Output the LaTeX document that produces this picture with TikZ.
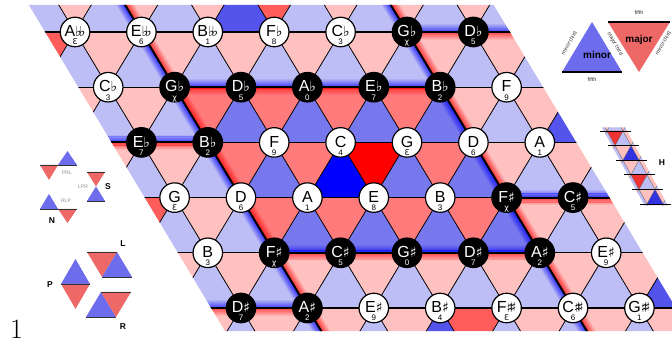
\documentclass[tikz,border=0pt]{standalone}
\usepackage{fontspec}
\usetikzlibrary{calc}
\setsansfont{Liberation Sans}
\newfontfamily\djv{DejaVu Sans}
\definecolor{majL}{RGB}{255,192,192}
\definecolor{majM}{RGB}{255,122,122}
\definecolor{majC}{RGB}{255,92,92}
\definecolor{majH}{RGB}{255,0,0}
\definecolor{minL}{RGB}{190,190,246}
\definecolor{minM}{RGB}{120,120,238}
\definecolor{minC}{RGB}{84,84,236}
\definecolor{minH}{RGB}{0,0,255}
\definecolor{legR}{RGB}{238,104,104}
\definecolor{legB}{RGB}{108,108,236}
\definecolor{hexR}{RGB}{240,50,50}
\definecolor{hexB}{RGB}{50,50,225}
\newcommand\fl{{\djv\fontsize{14}{14}\selectfont ♭}}
\newcommand\sh{{\djv\fontsize{14}{14}\selectfont ♯}}
\newcommand\dfl{\fl\kern-3pt\fl}
\newcommand\dsh{\sh\kern-4pt\sh}
\newcommand\ten{{\djv χ}}
\newcommand\elv{{\djv Ɛ}}
\newcommand\glowline[2]{%
  \foreach \k in {1,...,8}{%
    \pgfmathsetmacro\dd{\k*0.9}%
    \pgfmathsetmacro\op{0.62*(1-(\k-1)/8)}%
    \draw[blue,opacity=\op,line width=1pt]
      ($(#1)!\dd pt!90:(#2)$) -- ($(#2)!\dd pt!-90:(#1)$);
    \draw[red,opacity=\op,line width=1pt]
      ($(#1)!\dd pt!-90:(#2)$) -- ($(#2)!\dd pt!90:(#1)$);
  }}

\begin{document}
\begin{tikzpicture}[x=1pt,y=-1pt,
  note/.style={circle,draw=black,line width=1.2pt,minimum size=29.5pt,inner sep=0pt},
  wnote/.style={note,fill=white},
  bnote/.style={note,fill=black},
  wnote-lab/.style={text=black},
  bnote-lab/.style={text=white},
  nlab/.style={font=\sffamily\fontsize{16}{16}\selectfont,inner sep=0pt,text height=11.5pt,text depth=0pt,yshift=1pt},
  numlab/.style={font=\sffamily\fontsize{8}{8}\selectfont,inner sep=0pt,text height=5.8pt,text depth=0pt,yshift=-10pt},
  hline/.style={black,line width=1.1pt},
  dline/.style={black,line width=0.8pt},
  bound/.style={black,line width=2pt},
  edge/.style={black!80,line width=0.9pt},
  lgtiny/.style={font=\sffamily\fontsize{5.5}{6}\selectfont,text=black!80,inner sep=0pt},
  lggray/.style={font=\sffamily\fontsize{5}{6}\selectfont,text=black!45,inner sep=0pt},
  lgbold/.style={font=\sffamily\bfseries\fontsize{10}{10}\selectfont,inner sep=0pt},
  opbold/.style={font=\sffamily\bfseries\fontsize{8.5}{9}\selectfont,inner sep=0pt}]
\useasboundingbox (0,0) rectangle (672,344);

\begin{scope}[shift={(75,32)},x={(66.4pt,0pt)},y={(33.2pt,-55.2pt)}]
\begin{scope}
\clip (-0.45,-0.49) -- (6.55,-0.49) -- (6.55,5.42) -- (-0.45,5.42) -- cycle;
\foreach \r in {-1,...,5}{
  \foreach \c in {-2,...,7}{
    \pgfmathtruncatemacro\p{mod(7*\c+4*\r+127,12)}
    \pgfmathtruncatemacro\q{mod(7*\c+4*\r+131,12)}
    \pgfmathtruncatemacro\ind{(\c>0)*(\c<5)*(\r>0)*(\r<4)}
    \ifnum\ind=1 \def\dcol{majM}\def\ucol{minM}\else\def\dcol{majL}\def\ucol{minL}\fi
    \ifnum\p=0 \ifnum\ind=1 \def\dcol{majH}\else\def\dcol{majC}\fi\fi
    \ifnum\q=9 \ifnum\ind=1 \def\ucol{minH}\else\def\ucol{minC}\fi\fi
    \fill[\dcol] (\c,\r) -- (\c+1,\r) -- (\c,\r+1) -- cycle;
    \fill[\ucol] (\c+1,\r) -- (\c,\r+1) -- (\c+1,\r+1) -- cycle;
  }}
\foreach \a/\b in {{-4,2}/{1,2},{-4,5}/{1,5},{1,1}/{5,1},{1,4}/{5,4},{5,0}/{10,0},{5,3}/{10,3},{1,7}/{1,-2},{5,7}/{5,-2}}{\glowline{\a}{\b}}
\foreach \r in {-1,...,6} \draw[hline] (-8,\r) -- (12,\r);
\foreach \c in {-6,...,9} \draw[dline] (\c,-1) -- (\c,7);
\foreach \s in {-2,...,14} \draw[dline] (\s+1,-1) -- (\s-7,7);
\foreach \a/\b in {{-4,2}/{1,2},{-4,5}/{1,5},{1,1}/{5,1},{1,4}/{5,4},{5,0}/{10,0},{5,3}/{10,3},{1,7}/{1,-2},{5,7}/{5,-2}}{\draw[bound] (\a) -- (\b);}
\end{scope}

\foreach \nm/\num/\st [count=\c from 0] in {A\dfl/\elv/wnote,E\dfl/6/wnote,B\dfl/1/wnote,F\fl/8/wnote,C\fl/3/wnote,G\fl/\ten/bnote,D\fl/5/bnote}
  \node[\st,label={[nlab,\st-lab]center:\nm},label={[numlab,\st-lab]center:\num}] (n0\c) at (\c,0) {};
\foreach \nm/\num/\st [count=\c from 0] in {C\fl/3/wnote,G\fl/\ten/bnote,D\fl/5/bnote,A\fl/0/bnote,E\fl/7/bnote,B\fl/2/bnote,F/9/wnote}
  \node[\st,label={[nlab,\st-lab]center:\nm},label={[numlab,\st-lab]center:\num}] (n1\c) at (\c,1) {};
\foreach \nm/\num/\st [count=\c from 0] in {E\fl/7/bnote,B\fl/2/bnote,F/9/wnote,C/4/wnote,G/\elv/wnote,D/6/wnote,A/1/wnote}
  \node[\st,label={[nlab,\st-lab]center:\nm},label={[numlab,\st-lab]center:\num}] (n2\c) at (\c,2) {};
\foreach \nm/\num/\st [count=\c from 0] in {G/\elv/wnote,D/6/wnote,A/1/wnote,E/8/wnote,B/3/wnote,F\sh/\ten/bnote,C\sh/5/bnote}
  \node[\st,label={[nlab,\st-lab]center:\nm},label={[numlab,\st-lab]center:\num}] (n3\c) at (\c,3) {};
\foreach \nm/\num/\st [count=\c from 0] in {B/3/wnote,F\sh/\ten/bnote,C\sh/5/bnote,G\sh/0/bnote,D\sh/7/bnote,A\sh/2/bnote,E\sh/9/wnote}
  \node[\st,label={[nlab,\st-lab]center:\nm},label={[numlab,\st-lab]center:\num}] (n4\c) at (\c,4) {};
\foreach \nm/\num/\st [count=\c from 0] in {D\sh/7/bnote,A\sh/2/bnote,E\sh/9/wnote,B\sh/4/wnote,F\dsh/\elv/wnote,C\dsh/6/wnote,G\dsh/1/wnote}
  \node[\st,label={[nlab,\st-lab]center:\nm},label={[numlab,\st-lab]center:\num}] (n5\c) at (\c,5) {};
\end{scope}

\fill[legB] (562,72) -- (622,72) -- (592,22) -- cycle;
\draw[line width=2pt] (562,72) -- (622,72);
\fill[legR] (608,22) -- (670,22) -- (639,72) -- cycle;
\draw[line width=2pt] (608,22) -- (670,22);
\node[lgbold] (minorlab) at (597,55) {minor};
\node[lgbold] (majorlab) at (639,40) {major};
\node[lgtiny] (fifthlo) at (592,80) {fifth};
\node[lgtiny] (fifthhi) at (639,13) {fifth};
\node[lgtiny,rotate=60] (mthirdl) at (569,43) {minor third};
\node[lgtiny,rotate=-60] (Mthird) at (615,44) {major third};
\node[lgtiny,rotate=60] (mthirdr) at (663,43) {minor third};

\begin{scope}[shift={(607,131)},x={(16pt,0pt)},y={(8pt,-14.6pt)}]
\begin{scope}
\clip (-0.2,-0.25) -- (1.25,-0.25) -- (1.25,5.1) -- (-0.2,5.1) -- cycle;
\foreach \r in {-1,...,5}{
  \foreach \c in {-2,...,2}{
    \fill[majL] (\c,\r) -- (\c+1,\r) -- (\c,\r+1) -- cycle;
    \fill[minL] (\c+1,\r) -- (\c,\r+1) -- (\c+1,\r+1) -- cycle;
  }}
\fill[hexR] (0,0) -- (1,0) -- (0,1) -- cycle;
\fill[hexB] (1,1) -- (0,2) -- (1,2) -- cycle;
\fill[hexR] (0,3) -- (1,3) -- (0,4) -- cycle;
\fill[hexB] (1,4) -- (0,5) -- (1,5) -- cycle;
\foreach \c in {-3,...,3} \draw[black!60,line width=0.4pt] (\c,-1) -- (\c,6);
\foreach \s in {-2,...,8} \draw[black!60,line width=0.4pt] (\s+1,-1) -- (\s-6,6);
\end{scope}
\foreach \r in {0,...,5} \draw[black,line width=0.7pt] (-0.45,\r) -- (1.5,\r);
\end{scope}
\node[opbold] (hop) at (662,163) {H};

\fill[legB] (58,165) -- (77,165) -- (67.5,151) -- cycle;
\fill[legR] (40,165) -- (58,165) -- (49,180) -- cycle;
\draw[edge] (40,165) -- (77,165);
\node[lggray] (prl) at (67,173) {PRL};
\fill[legR] (87,172) -- (105,172) -- (96,186.5) -- cycle;
\fill[legB] (87,201) -- (105,201) -- (96,186.5) -- cycle;
\draw[edge] (87,172) -- (105,172);
\draw[edge] (87,201) -- (105,201);
\node[lggray] (lpr) at (83,187) {LPR};
\node[opbold] (sop) at (108,187) {S};
\fill[legB] (40,209) -- (58,209) -- (49,194) -- cycle;
\fill[legR] (58,209) -- (77,209) -- (67.5,223) -- cycle;
\draw[edge] (40,209) -- (77,209);
\node[lggray] (rlp) at (66,201) {RLP};
\node[opbold] (nop) at (52,221) {N};
\fill[legB] (61,284) -- (90,284) -- (75.5,259) -- cycle;
\fill[legR] (61,284) -- (90,284) -- (75.5,309) -- cycle;
\draw[edge] (61,284) -- (90,284);
\node[opbold] (pop) at (50,285) {P};
\fill[legR] (87,252) -- (117,252) -- (102,277) -- cycle;
\fill[legB] (117,252) -- (102,277) -- (132,277) -- cycle;
\draw[edge] (87,252) -- (117,252);
\draw[edge] (102,277) -- (132,277);
\node[opbold] (lop) at (123,244) {L};
\fill[legB] (101,292) -- (86,317) -- (116,317) -- cycle;
\fill[legR] (101,292) -- (131,292) -- (116,317) -- cycle;
\draw[edge] (86,317) -- (116,317);
\draw[edge] (101,292) -- (131,292);
\node[opbold] (rop) at (123,327) {R};

\node[font=\fontsize{28}{28}\selectfont,inner sep=0pt] (pagenum) at (16.5,329) {1};
\end{tikzpicture}
\end{document}
